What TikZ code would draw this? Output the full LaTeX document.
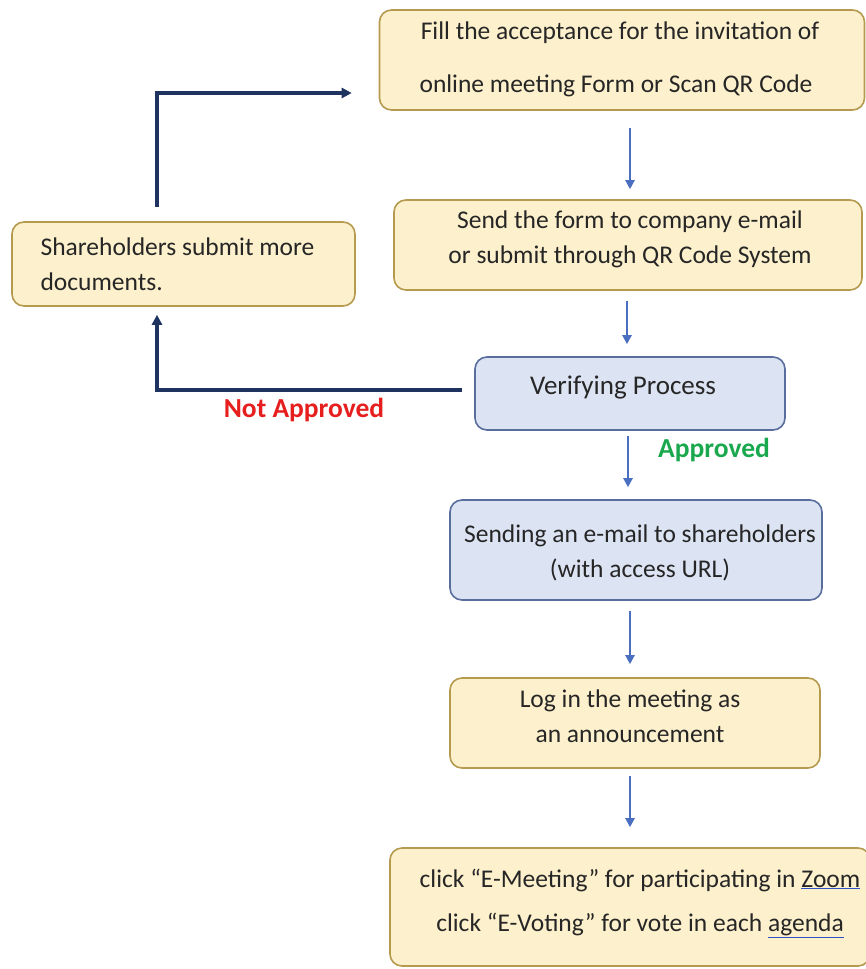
\documentclass[tikz,border=0pt]{standalone}
\usepackage{fontspec}
\setmainfont{Carlito}
\usetikzlibrary{arrows.meta,calc}
\definecolor{yfill}{HTML}{FDF0CC}
\definecolor{ydraw}{HTML}{B59A50}
\definecolor{bfill}{HTML}{DCE3F3}
\definecolor{bdraw}{HTML}{5A6E9E}
\definecolor{varr}{HTML}{4A6FC0}
\definecolor{navy}{HTML}{1F3360}
\definecolor{txt}{HTML}{262626}
\definecolor{nred}{HTML}{E61E1E}
\definecolor{agreen}{HTML}{19A84E}
\definecolor{ulblue}{HTML}{3050C8}
\newcommand{\blueul}[1]{{\color{ulblue}\underline{\textcolor{txt}{#1}}}}
\tikzset{
  ybox/.style={draw=ydraw, fill=yfill, line width=1.6pt, rounded corners=12pt, inner sep=0pt},
  bbox/.style={draw=bdraw, fill=bfill, line width=1.6pt, rounded corners=12pt, inner sep=0pt},
  lbl/.style={text=txt, font=\fontsize{25.5}{35}\selectfont, inner sep=0pt, align=center},
  varrow/.style={draw=varr, line width=2.4pt, -{Triangle[length=9pt,width=9pt]}},
  narrow/.style={draw=navy, line width=3.4pt, -{Triangle[length=10pt,width=10pt]}}
}
\begin{document}
\begin{tikzpicture}[x=1pt,y=-1pt]
\useasboundingbox (0,0) rectangle (866,969);
\fill[white] (0,0) rectangle (866,969);
% boxes
\node[ybox, minimum width=485pt, minimum height=100pt] (b1) at (622,60) {};
\node[ybox, minimum width=468pt, minimum height=90pt] (b2) at (628,245) {};
\node[ybox, minimum width=343pt, minimum height=84pt] (b3) at (183.5,264) {};
\node[bbox, minimum width=310pt, minimum height=73pt] (b4) at (630,393.5) {};
\node[bbox, minimum width=372pt, minimum height=100pt] (b5) at (636,550) {};
\node[ybox, minimum width=370pt, minimum height=90pt] (b6) at (635,723) {};
\node[ybox, minimum width=480pt, minimum height=118pt] (b7) at (630,907) {};
% texts
\node[lbl] (t1a) at (620,33) {Fill the acceptance for the invitation of};
\node[lbl] (t1b) at (616,86) {online meeting Form or Scan QR Code};
\node[lbl] (t2) at (630,239) {Send the form to company e-mail\\or submit through QR Code System};
\node[lbl, align=left] (t3) at (177.5,264) {Shareholders submit more\\documents.};
\node[lbl, font=\fontsize{27}{35}\selectfont] (t4) at (623,388) {Verifying Process};
\node[lbl] (t5) at (640,553) {Sending an e-mail to shareholders\\(with access URL)};
\node[lbl] (t6) at (630,716) {Log in the meeting as\\an announcement};
\node[lbl] (t7a) at (640,880) {click “E-Meeting” for participating in \blueul{Zoom}};
\node[lbl] (t7b) at (640,925) {click “E-Voting” for vote in each \blueul{agenda}};
\node[text=nred, font=\fontsize{27.5}{30}\selectfont\bfseries, inner sep=0pt] (na) at (304,410) {Not Approved};
\node[text=agreen, font=\fontsize{27.5}{30}\selectfont\bfseries, inner sep=0pt] (ap) at (714,450) {Approved};
% vertical arrows
\draw[varrow] ([shift={(8pt,-17pt)}]b1.south) -- ([shift={(2pt,10pt)}]b2.north);
\draw[varrow] ([shift={(-1pt,-10pt)}]b2.south) -- ([shift={(-3pt,12pt)}]b4.north);
\draw[varrow] ([shift={(-2pt,-5pt)}]b4.south) -- ([shift={(-8pt,12pt)}]b5.north);
\draw[varrow] ([shift={(-6pt,-10pt)}]b5.south) -- ([shift={(-5pt,13pt)}]b6.north);
\draw[varrow] ([shift={(-5pt,-7pt)}]b6.south) -- ([shift={(0pt,20pt)}]b7.north);
% loop arrows
\coordinate (c1) at ([shift={(-12pt,3.5pt)}]b4.west);
\draw[narrow] (c1) -| ([shift={(-26.5pt,-8pt)}]b3.south);
\coordinate (c2) at ([shift={(-26.5pt,14pt)}]b3.north);
\coordinate (c3) at ([shift={(-27pt,-33pt)}]b1.west);
\draw[narrow] (c2) |- (c3);
\end{tikzpicture}
\end{document}
